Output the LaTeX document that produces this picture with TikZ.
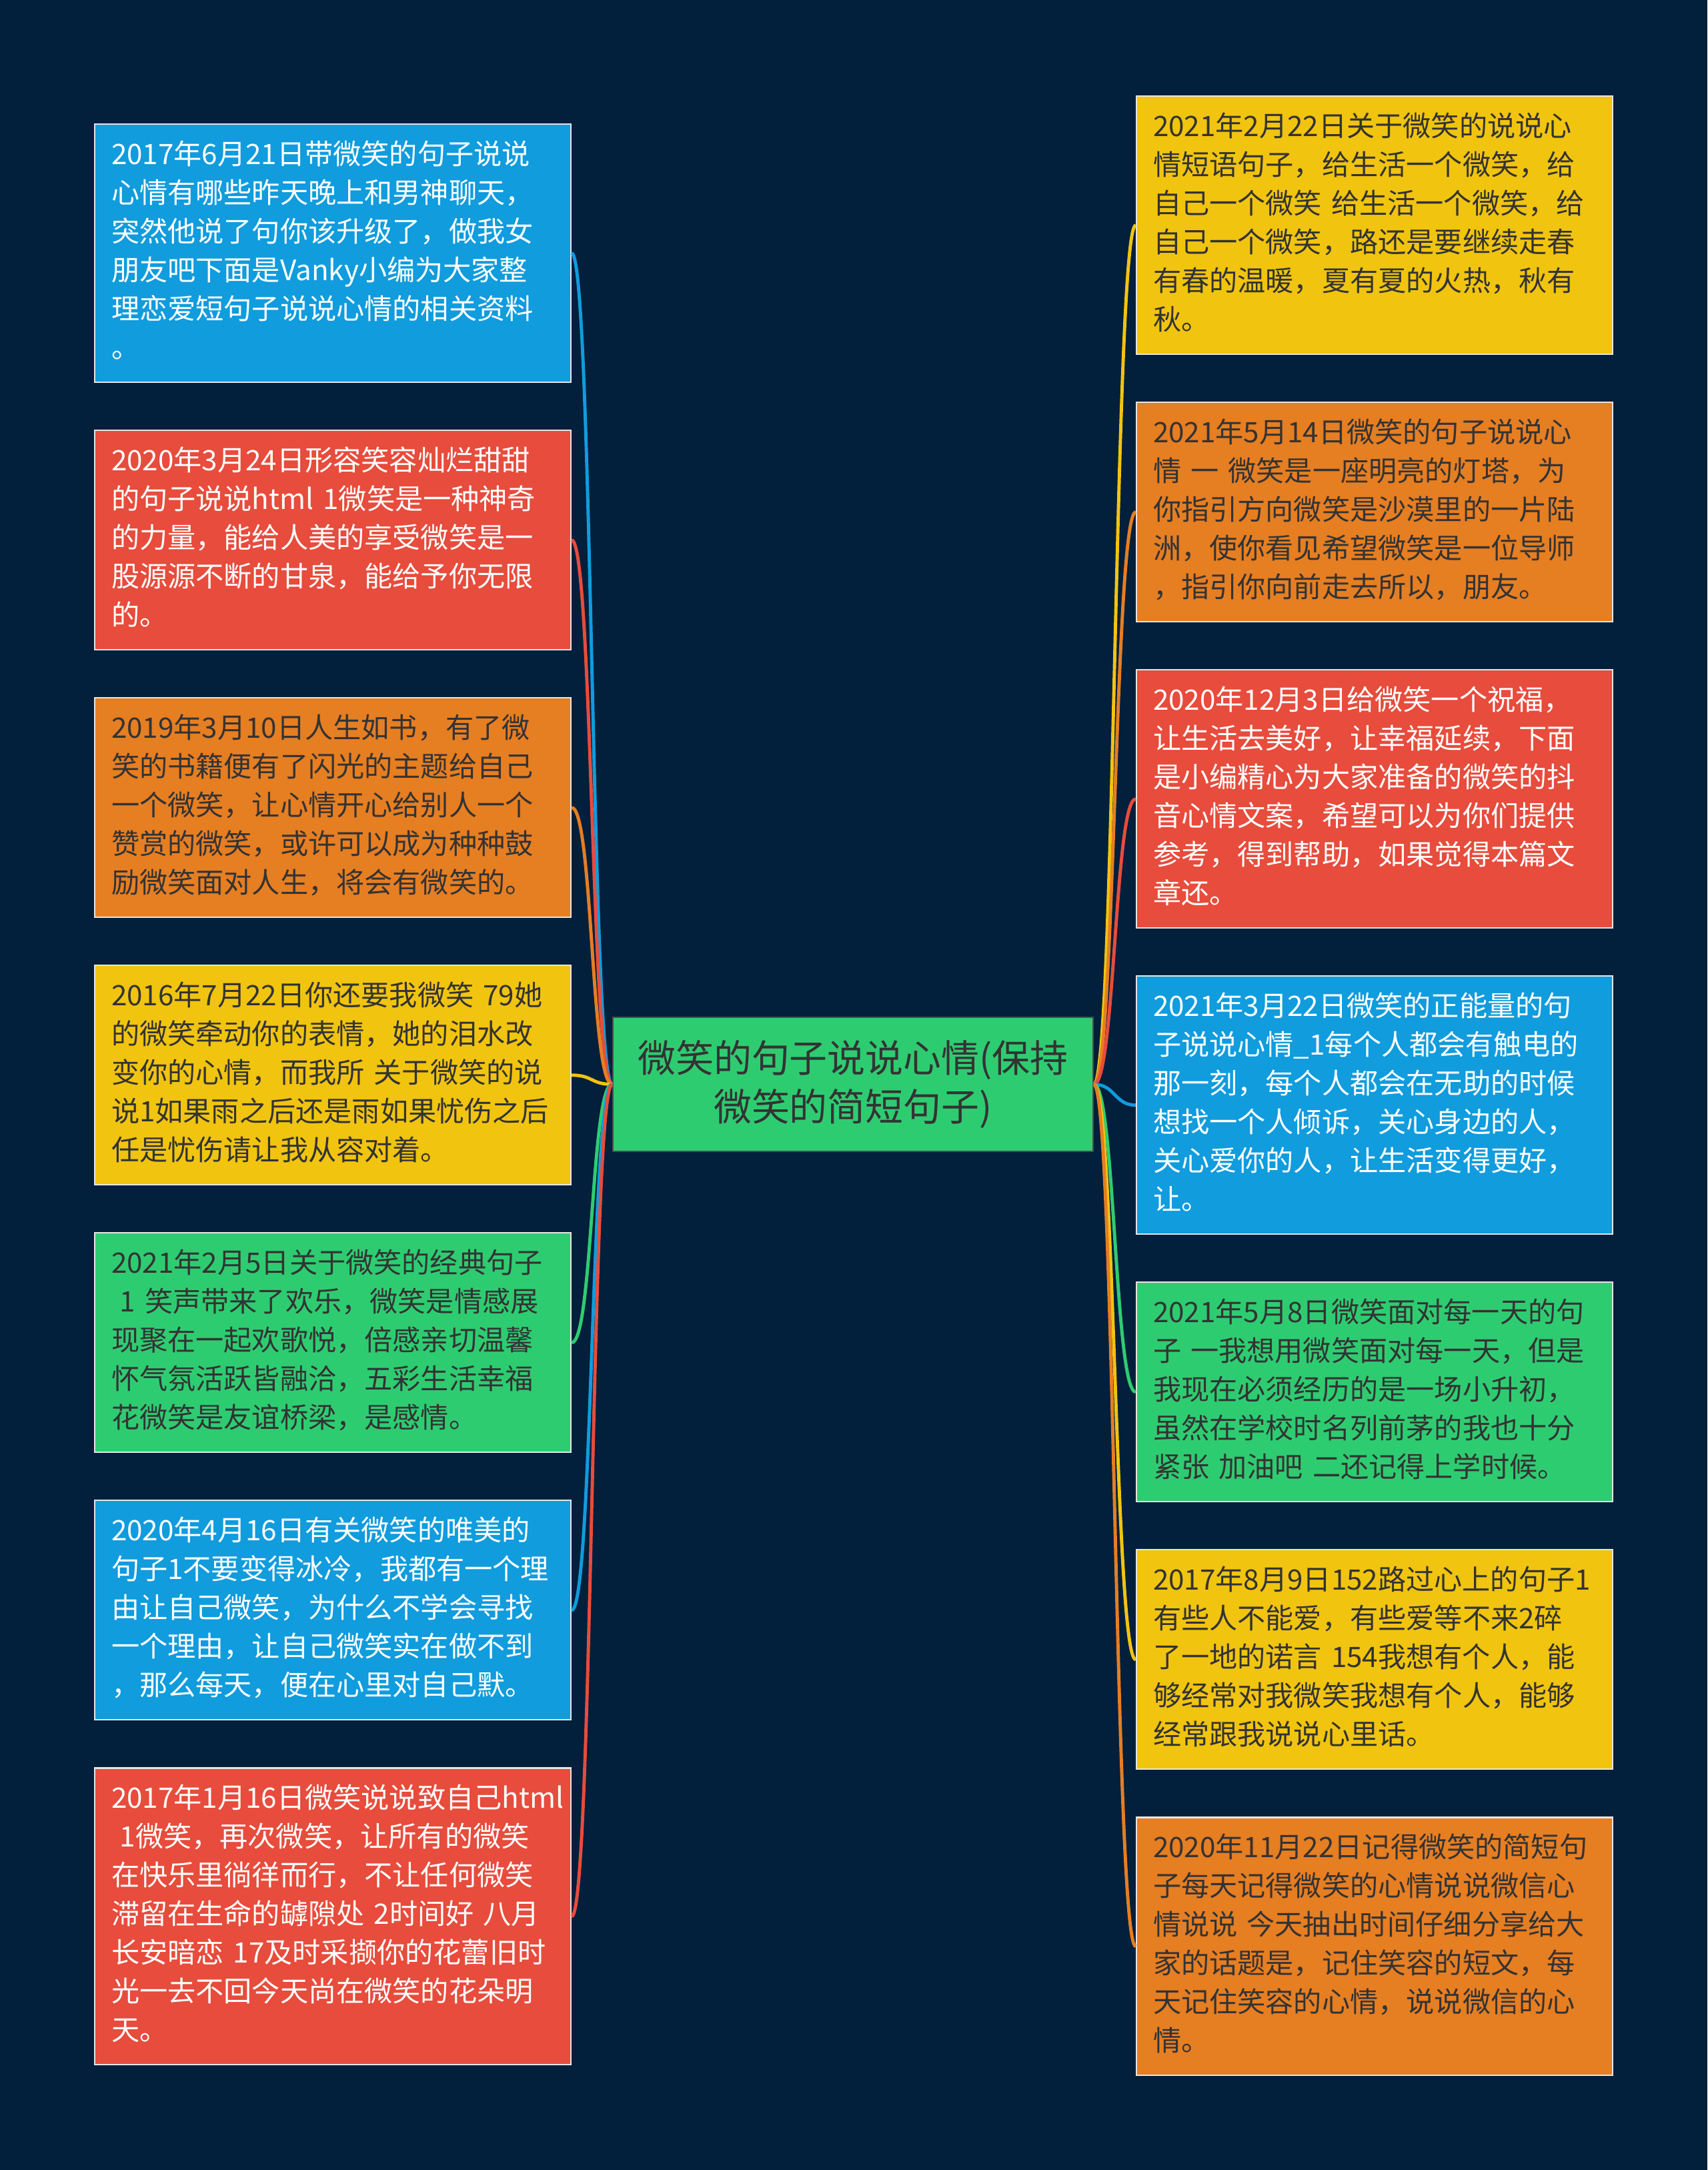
\documentclass[tikz,border=0pt]{standalone}
\usepackage{fontspec}
\setmainfont{Noto Sans CJK SC}
\usepackage{tikz}
\usetikzlibrary{positioning}
\definecolor{bgnavy}{RGB}{2,31,59}
\definecolor{mapblue}{RGB}{16,156,221}
\definecolor{mapred}{RGB}{231,76,60}
\definecolor{maporange}{RGB}{230,126,34}
\definecolor{mapyellow}{RGB}{241,196,15}
\definecolor{mapgreen}{RGB}{46,204,113}
\definecolor{inkdark}{RGB}{51,51,51}
\tikzset{
  leaf/.style={rectangle, draw=white!90!black, line width=0.6pt,
    text width=6.64cm, inner xsep=0.25cm, inner ysep=0.195cm, align=left,
    font=\fontsize{12pt}{16.5pt}\selectfont,
    execute at begin node=\strut, execute at end node=\strut},
  bluenote/.style={leaf, fill=mapblue, text=white},
  rednote/.style={leaf, fill=mapred, text=white},
  orangenote/.style={leaf, fill=maporange, text=inkdark},
  yellownote/.style={leaf, fill=mapyellow, text=inkdark},
  greennote/.style={leaf, fill=mapgreen, text=inkdark},
  topic/.style={rectangle, fill=mapgreen, draw=black!70, line width=0.6pt,
    minimum width=7.2cm, minimum height=2.01cm, align=center,
    font=\fontsize{16.2pt}{20.7pt}\selectfont, text=inkdark},
  link/.style={line width=1.4pt},
}
\begin{document}
\begin{tikzpicture}[node distance=0.7cm]
  \fill[bgnavy] (0,0) rectangle (25.6,-32.53);
  \useasboundingbox (0,0) rectangle (25.6,-32.53);
  % central topic
  \node[topic] (main) at (12.79,-16.255) {微笑的句子说说心情(保持\\微笑的简短句子)};
  % left side
  \node[bluenote, anchor=north west] (l1) at (1.41,-1.85)
    {2017年6月21日带微笑的句子说说\\心情有哪些昨天晚上和男神聊天，\\突然他说了句你该升级了，做我女\\朋友吧下面是Vanky小编为大家整\\理恋爱短句子说说心情的相关资料\\。};
  \node[rednote, below=of l1] (l2)
    {2020年3月24日形容笑容灿烂甜甜\\的句子说说html~1微笑是一种神奇\\的力量，能给人美的享受微笑是一\\股源源不断的甘泉，能给予你无限\\的。};
  \node[orangenote, below=of l2] (l3)
    {2019年3月10日人生如书，有了微\\笑的书籍便有了闪光的主题给自己\\一个微笑，让心情开心给别人一个\\赞赏的微笑，或许可以成为种种鼓\\励微笑面对人生，将会有微笑的。};
  \node[yellownote, below=of l3] (l4)
    {2016年7月22日你还要我微笑~79她\\的微笑牵动你的表情，她的泪水改\\变你的心情，而我所~关于微笑的说\\说1如果雨之后还是雨如果忧伤之后\\任是忧伤请让我从容对着。};
  \node[greennote, below=of l4] (l5)
    {2021年2月5日关于微笑的经典句子\\\hspace*{.3em}1~笑声带来了欢乐，微笑是情感展\\现聚在一起欢歌悦，倍感亲切温馨\\怀气氛活跃皆融洽，五彩生活幸福\\花微笑是友谊桥梁，是感情。};
  \node[bluenote, below=of l5] (l6)
    {2020年4月16日有关微笑的唯美的\\句子1不要变得冰冷，我都有一个理\\由让自己微笑，为什么不学会寻找\\一个理由，让自己微笑实在做不到\\，那么每天，便在心里对自己默。};
  \node[rednote, below=of l6] (l7)
    {2017年1月16日微笑说说致自己html\\\hspace*{.3em}1微笑，再次微笑，让所有的微笑\\在快乐里徜徉而行，不让任何微笑\\滞留在生命的罅隙处~2时间好~八月\\长安暗恋~17及时采撷你的花蕾旧时\\光一去不回今天尚在微笑的花朵明\\天。};
  % right side
  \node[yellownote, anchor=north west] (r1) at (17.03,-1.43)
    {2021年2月22日关于微笑的说说心\\情短语句子，给生活一个微笑，给\\自己一个微笑~给生活一个微笑，给\\自己一个微笑，路还是要继续走春\\有春的温暖，夏有夏的火热，秋有\\秋。};
  \node[orangenote, below=of r1] (r2)
    {2021年5月14日微笑的句子说说心\\情~一~微笑是一座明亮的灯塔，为\\你指引方向微笑是沙漠里的一片陆\\洲，使你看见希望微笑是一位导师\\，指引你向前走去所以，朋友。};
  \node[rednote, below=of r2] (r3)
    {2020年12月3日给微笑一个祝福，\\让生活去美好，让幸福延续，下面\\是小编精心为大家准备的微笑的抖\\音心情文案，希望可以为你们提供\\参考，得到帮助，如果觉得本篇文\\章还。};
  \node[bluenote, below=of r3] (r4)
    {2021年3月22日微笑的正能量的句\\子说说心情\_1每个人都会有触电的\\那一刻，每个人都会在无助的时候\\想找一个人倾诉，关心身边的人，\\关心爱你的人，让生活变得更好，\\让。};
  \node[greennote, below=of r4] (r5)
    {2021年5月8日微笑面对每一天的句\\子~一我想用微笑面对每一天，但是\\我现在必须经历的是一场小升初，\\虽然在学校时名列前茅的我也十分\\紧张~加油吧~二还记得上学时候。};
  \node[yellownote, below=of r5] (r6)
    {2017年8月9日152路过心上的句子1\\有些人不能爱，有些爱等不来2碎\\了一地的诺言~154我想有个人，能\\够经常对我微笑我想有个人，能够\\经常跟我说说心里话。};
  \node[orangenote, below=of r6] (r7)
    {2020年11月22日记得微笑的简短句\\子每天记得微笑的心情说说微信心\\情说说~今天抽出时间仔细分享给大\\家的话题是，记住笑容的短文，每\\天记住笑容的心情，说说微信的心\\情。};
  % links, left
  \draw[link, mapblue] (main.west) .. controls +(-0.32,0) and +(0.32,0) .. (l1.east);
  \draw[link, mapred] (main.west) .. controls +(-0.32,0) and +(0.32,0) .. (l2.east);
  \draw[link, maporange] (main.west) .. controls +(-0.32,0) and +(0.32,0) .. (l3.east);
  \draw[link, mapyellow] (main.west) .. controls +(-0.32,0) and +(0.32,0) .. (l4.east);
  \draw[link, mapgreen] (main.west) .. controls +(-0.32,0) and +(0.32,0) .. (l5.east);
  \draw[link, mapblue] (main.west) .. controls +(-0.32,0) and +(0.32,0) .. (l6.east);
  \draw[link, mapred] (main.west) .. controls +(-0.32,0) and +(0.32,0) .. (l7.east);
  % links, right
  \draw[link, mapyellow] (main.east) .. controls +(0.32,0) and +(-0.32,0) .. (r1.west);
  \draw[link, maporange] (main.east) .. controls +(0.32,0) and +(-0.32,0) .. (r2.west);
  \draw[link, mapred] (main.east) .. controls +(0.32,0) and +(-0.32,0) .. (r3.west);
  \draw[link, mapblue] (main.east) .. controls +(0.32,0) and +(-0.32,0) .. (r4.west);
  \draw[link, mapgreen] (main.east) .. controls +(0.32,0) and +(-0.32,0) .. (r5.west);
  \draw[link, mapyellow] (main.east) .. controls +(0.32,0) and +(-0.32,0) .. (r6.west);
  \draw[link, maporange] (main.east) .. controls +(0.32,0) and +(-0.32,0) .. (r7.west);
\end{tikzpicture}
\end{document}
